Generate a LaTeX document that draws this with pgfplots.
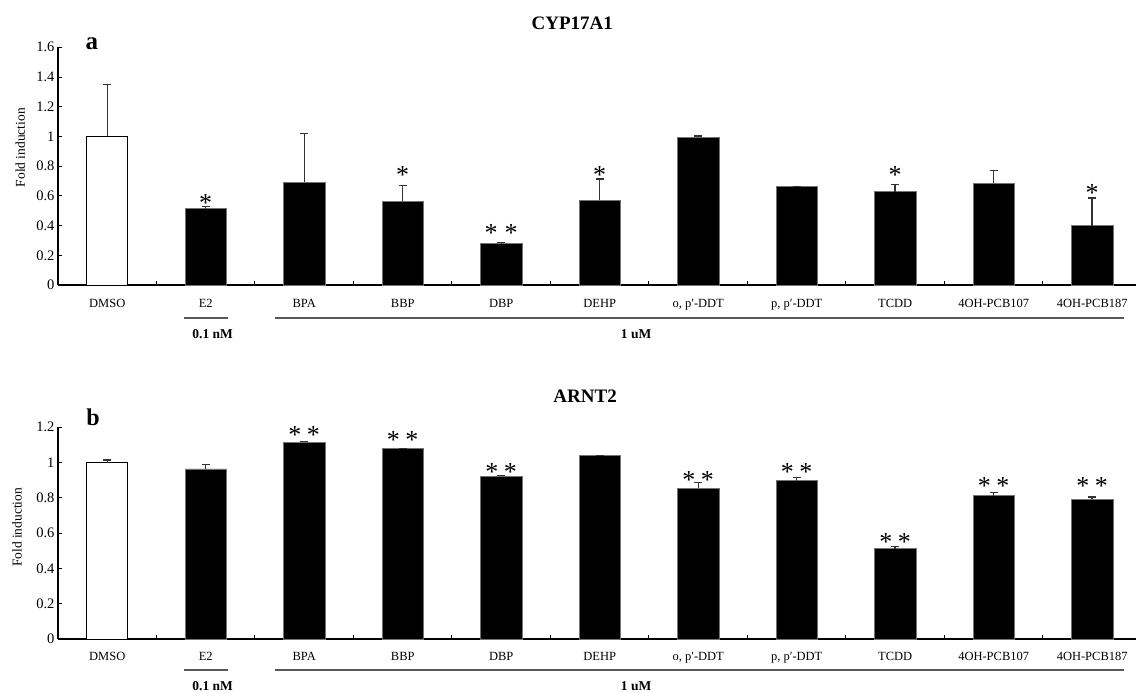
\documentclass[border=0pt]{standalone}
\usepackage{fontspec}
\setmainfont{Liberation Serif}
\usepackage{pgfplots}
\pgfplotsset{compat=1.18}
\usepackage{pgfplotstable}

% CYP17A1 (treatments, black bars)
\pgfplotstableread{
x y e
1 0.513 0.014
2 0.693 0.325
3 0.563 0.105
4 0.278 0.007
5 0.570 0.143
6 0.996 0.007
7 0.662 0.000
8 0.628 0.049
9 0.684 0.088
10 0.399 0.186
}\cypdata
% ARNT2 (treatments, black bars)
\pgfplotstableread{
x y e
1 0.964 0.026
2 1.115 0.006
3 1.081 0.000
4 0.922 0.006
5 1.039 0.000
6 0.854 0.032
7 0.897 0.017
8 0.512 0.011
9 0.812 0.019
10 0.792 0.013
}\arntdata

\begin{document}
\begin{tikzpicture}
\useasboundingbox (0,0) rectangle (1136pt,693pt);
\pgfplotsset{
 common/.style={
  scale only axis, width=1078pt, xmin=-0.5, xmax=10.445, ymin=0,
  axis x line=bottom, axis y line=left,
  axis line style={-, line width=1.1pt, black},
  every inner x axis line/.append style={-},
  every inner y axis line/.append style={-},
  tick align=inside, clip=false,
  xtick={0,1,2,3,4,5,6,7,8,9,10},
  xticklabels={DMSO,E2,BPA,BBP,DBP,DEHP,{o, p′-DDT},{p, p′-DDT},TCDD,4OH-PCB107,4OH-PCB187},
  major x tick style={draw=none},
  minor xtick={0.5,1.5,2.5,3.5,4.5,5.5,6.5,7.5,8.5,9.5},
  minor tick length=4pt, major tick length=4pt,
  minor x tick style={line width=1pt, black},
  major y tick style={line width=1pt, black},
  xticklabel style={font=\fontsize{12.5}{14}\selectfont, anchor=base},
  yticklabel style={font=\fontsize{14.5}{16}\selectfont},
  /pgf/number format/assume math mode=true,
  /pgf/number format/fixed,
  ylabel={Fold induction},
  ylabel style={font=\fontsize{13.5}{15}\selectfont, anchor=center},
 },
 errstyle/.style={error bars/.cd, y dir=plus, y explicit,
   error bar style={line width=1.4pt, black!80},
   error mark=-,
   error mark options={rotate=90, line width=1.4pt, mark size=4pt, black!80}},
 blackbar/.style={ybar, bar width=0.42, bar shift=0pt, fill=black, draw=black!55, line width=0.6pt, errstyle},
 whitebar/.style={ybar, bar width=0.42, bar shift=0pt, fill=white, draw=black, line width=0.9pt, errstyle},
 stars/.style={draw=none, mark=none, nodes near coords={#1},
   every node near coord/.append style={anchor=center, yshift=-3.3pt, font=\fontsize{26}{26}\selectfont, inner sep=0pt}},
}

% ---------------- top panel: CYP17A1 ----------------
\begin{axis}[common, at={(58pt,408pt)}, anchor=south west, height=237.7pt,
  ymax=1.6, ytick={0,0.2,0.4,0.6,0.8,1,1.2,1.4,1.6},
  xticklabel style={yshift=-23pt},
  ylabel style={at={(axis description cs:-0.035,0.578)}}]
\addplot[whitebar] coordinates {(0,1.00) +- (0,0.35)};
\addplot[blackbar] table[x=x, y=y, y error=e] {\cypdata};
\addplot[stars={*}] coordinates {(1,0.572) (3,0.764) (5,0.764) (8,0.762) (10,0.639)};
\addplot[stars={*\hspace{7pt}*}] coordinates {(4,0.370)};
\draw[line width=1.3pt, black!65] (axis cs:0.775,-0.222) -- (axis cs:1.23,-0.222);
\draw[line width=1.3pt, black!65] (axis cs:1.70,-0.222) -- (axis cs:10.32,-0.222);
\node[font=\bfseries\fontsize{13.5}{15}\selectfont] at (axis cs:1.07,-0.330) {0.1 nM};
\node[font=\bfseries\fontsize{13.5}{15}\selectfont] at (axis cs:5.37,-0.330) {1 uM};
\node[font=\bfseries\fontsize{19}{21}\selectfont] at (axis description cs:0.477,1.100) {CYP17A1};
\node[font=\bfseries\fontsize{25}{25}\selectfont] at (axis description cs:0.0315,1.016) {a};
\end{axis}

% ---------------- bottom panel: ARNT2 ----------------
\begin{axis}[common, at={(58pt,54pt)}, anchor=south west, height=211.7pt,
  ymax=1.2, ytick={0,0.2,0.4,0.6,0.8,1,1.2},
  xticklabel style={yshift=-22pt},
  ylabel style={at={(axis description cs:-0.038,0.527)}}]
\addplot[whitebar] coordinates {(0,1.00) +- (0,0.015)};
\addplot[blackbar] table[x=x, y=y, y error=e] {\arntdata};
\addplot[stars={*\hspace{5.5pt}*}] coordinates {(2,1.175) (3,1.147) (4,0.968) (6,0.920) (7,0.968) (8,0.571) (9,0.886) (10,0.886)};
\draw[line width=1.3pt, black!65] (axis cs:0.775,-0.176) -- (axis cs:1.23,-0.176);
\draw[line width=1.3pt, black!65] (axis cs:1.70,-0.176) -- (axis cs:10.32,-0.176);
\node[font=\bfseries\fontsize{13.5}{15}\selectfont] at (axis cs:1.07,-0.266) {0.1 nM};
\node[font=\bfseries\fontsize{13.5}{15}\selectfont] at (axis cs:5.37,-0.266) {1 uM};
\node[font=\bfseries\fontsize{19}{21}\selectfont] at (axis description cs:0.489,1.146) {ARNT2};
\node[font=\bfseries\fontsize{24}{24}\selectfont] at (axis description cs:0.0325,1.046) {b};
\end{axis}
\end{tikzpicture}
\end{document}
